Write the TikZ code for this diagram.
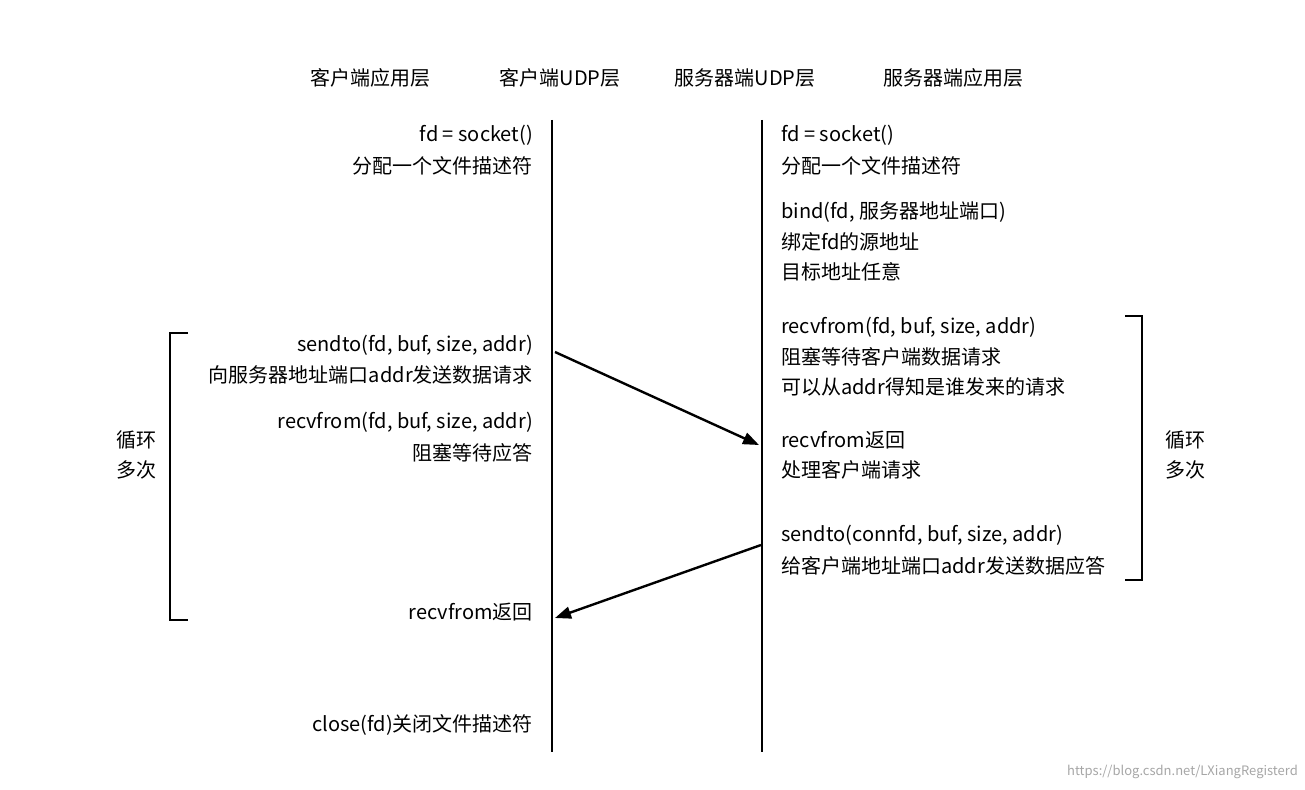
\documentclass[tikz,border=0pt]{standalone}
\usepackage{fontspec}
\setmainfont{Noto Sans CJK SC}
\usetikzlibrary{arrows.meta}
\begin{document}
\begin{tikzpicture}[x=1pt,y=-1pt,
  txt/.style={inner sep=0pt,font=\fontsize{20}{22}\selectfont},
  lt/.style={txt,anchor=east},
  rt/.style={txt,anchor=west},
  life/.style={line width=2.6pt},
  msg/.style={line width=2.4pt,-{Triangle[length=16pt,width=12pt]}},
  brk/.style={line width=2.6pt}]
\useasboundingbox (0,0) rectangle (1305,789);
\node[txt] (h1) at (370,78) {客户端应用层};
\node[txt] (h2) at (560,78) {客户端UDP层};
\node[txt] (h3) at (745,78) {服务器端UDP层};
\node[txt] (h4) at (953,78) {服务器端应用层};
\coordinate (c1) at (552,120); \coordinate (c2) at (552,752);
\coordinate (s1) at (762,120); \coordinate (s2) at (762,752);
\draw[life] (c1) -- (c2);
\draw[life] (s1) -- (s2);
% left texts
\node[lt] (l1) at (533,135) {fd = socket()};
\node[lt] (l2) at (533,166) {分配一个文件描述符};
\node[lt] (l3) at (533,345) {sendto(fd, buf, size, addr)};
\node[lt] (l4) at (533,375) {向服务器地址端口addr发送数据请求};
\node[lt] (l5) at (533,422) {recvfrom(fd, buf, size, addr)};
\node[lt] (l6) at (533,453) {阻塞等待应答};
\node[lt] (l7) at (533,612) {recvfrom返回};
\node[lt] (l8) at (533,725) {close(fd)关闭文件描述符};
% right texts
\node[rt] (r1) at (781,135) {fd = socket()};
\node[rt] (r2) at (781,166) {分配一个文件描述符};
\node[rt] (r3) at (781,212) {bind(fd, 服务器地址端口)};
\node[rt] (r4) at (781,242) {绑定fd的源地址};
\node[rt] (r5) at (781,272) {目标地址任意};
\node[rt] (r6) at (781,327) {recvfrom(fd, buf, size, addr)};
\node[rt] (r7) at (781,357) {阻塞等待客户端数据请求};
\node[rt] (r8) at (781,387) {可以从addr得知是谁发来的请求};
\node[rt] (r9) at (781,440) {recvfrom返回};
\node[rt] (r10) at (781,470) {处理客户端请求};
\node[rt] (r11) at (781,535) {sendto(connfd, buf, size, addr)};
\node[rt] (r12) at (781,566) {给客户端地址端口addr发送数据应答};
% messages
\coordinate (m1a) at (555,352); \coordinate (m1b) at (759,445);
\coordinate (m2a) at (761,545); \coordinate (m2b) at (555,618);
\draw[msg] (m1a) -- (m1b);
\draw[msg] (m2a) -- (m2b);
% brackets
\draw[brk] (188,333) -- (170,333) -- (170,620) -- (188,620);
\draw[brk] (1125,316) -- (1142,316) -- (1142,580) -- (1125,580);
\node[txt] (lp1) at (136,440) {循环};
\node[txt] (lp2) at (136,470) {多次};
\node[txt] (rp1) at (1185,440) {循环};
\node[txt] (rp2) at (1185,470) {多次};
\node[txt,anchor=east,font=\fontsize{13}{14}\selectfont,text=black!35] (wm) at (1298,772) {https://blog.csdn.net/LXiangRegisterd};
\end{tikzpicture}
\end{document}
